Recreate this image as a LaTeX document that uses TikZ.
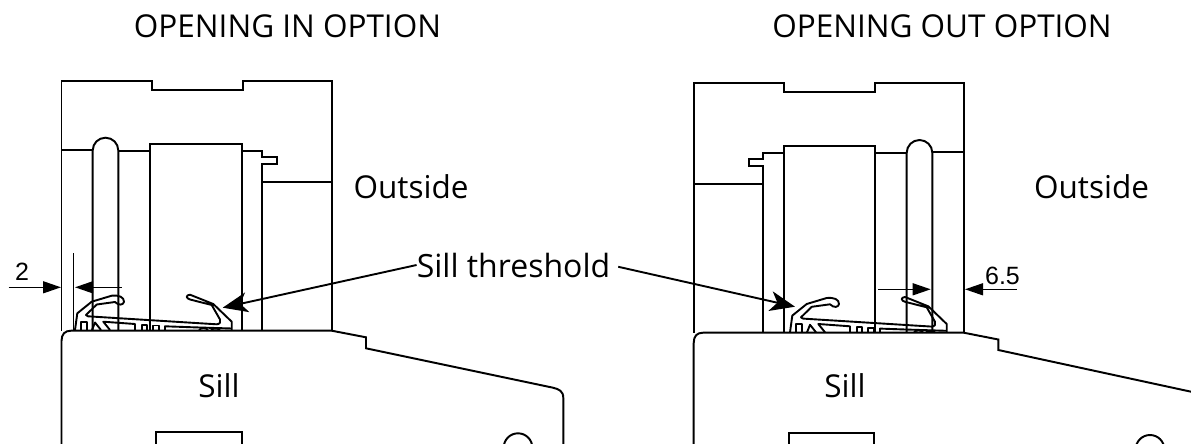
\documentclass[tikz,border=0pt]{standalone}
\usepackage{fontspec}
\setmainfont{Open Sans}
\newfontfamily\dimfont{Liberation Sans}
\usetikzlibrary{arrows.meta}
\tikzset{
  lne/.style={line width=1.95pt,line join=miter},
  thin line/.style={line width=1.5pt},
  lbl/.style={font=\fontsize{31.5}{36}\selectfont,inner sep=0pt},
  dimlbl/.style={font=\dimfont\fontsize{25}{28}\selectfont,inner sep=0pt},
  dimarrow/.style={line width=1.4pt,-{Triangle[length=18pt,width=12pt]},shorten >=0pt},
  leader/.style={line width=1.9pt,-{Stealth[length=25pt,width=20pt,inset=7pt]}},
  sealline/.style={line width=1.9pt,line join=round}
}
\newcommand{\sealshape}{%
  \draw[sealline] (75,330) -- (77.3,313.3) -- (91.7,301.7) -- (111.7,295.7) .. controls (119,295) and (124,297) .. (124,301.7) .. controls (123.5,305) and (119,306) .. (115,302) -- (96.7,304.5) -- (86,315) -- (88,316.3) -- (216.7,324.3) .. controls (220,324) and (221,322) .. (220,319.5) -- (211.7,305) -- (190,299.5) .. controls (186,298.5) and (185.5,295) .. (190,294.7) -- (213.3,304) -- (231.7,321.7) -- (231.7,330);
  \draw[sealline] (80.7,330) -- (80.7,321.7) -- (87.3,321.7) -- (87.3,330);
  \draw[sealline] (92,330) -- (95,322.5) -- (101,330);
  \draw[sealline] (110,330) -- (103.3,321.7) -- (135,324) -- (135,330);
  \draw[sealline] (141.7,330) -- (141.7,325) -- (147.3,325) -- (147.3,330);
  \draw[sealline] (153.3,330) -- (153.3,325.5) -- (159,325.5) -- (159,330);
  \draw[sealline] (165,330) -- (165,326.3) -- (193.3,327.3) -- (231.7,328.5);
  \draw[sealline] (199,330) .. controls (201,327.5) and (206,327.5) .. (208,330);
  \draw[sealline] (211,330) .. controls (213,328) and (218,328) .. (220,330);
}
\begin{document}
\begin{tikzpicture}[x=1pt,y=-1pt]
\useasboundingbox (0,0) rectangle (1191,444);
\fill[white] (0,0) rectangle (1191,444);
% ---- left view
\begin{scope}[lne]
\draw (61.5,330.7) -- (61.5,81) -- (151.7,81) -- (151.7,90) -- (242.7,90) -- (242.7,81) -- (331.7,81) -- (331.7,330.7);
\draw (61.5,150) -- (92.7,150);
\draw (92.7,330.7) -- (92.7,150.5) arc[start angle=180,end angle=360,radius=12.8] -- (118.3,330.7);
\draw (118.3,150.7) -- (150.3,150.7);
\draw (150.3,330.7) -- (150.3,144.3) -- (241.7,144.3) -- (241.7,330.7);
\draw (241.7,151) -- (262,151) -- (262,157.3) -- (276.7,157.3) -- (276.7,164) -- (262,164) -- (262,330.7);
\draw (262,182.3) -- (331.7,182.3);
\draw (61.5,444) -- (61.5,341) .. controls (61.5,334) and (65,330.7) .. (71,330.7) -- (331.7,330.7) -- (366,337.3) -- (366,348.3) -- (553,387.7) .. controls (559,389.2) and (563.3,391) .. (563.3,398) -- (563.3,444);
\draw (156,444) -- (156,432) -- (241.7,432) -- (241.7,444);
\draw (518,447.6) circle[radius=14.3];
\draw[thin line] (73.3,253.3) -- (73.3,330.7);
\end{scope}
\sealshape
% ---- right view
\begin{scope}[lne]
\draw (693.7,332.7) -- (693.7,83.3) -- (784,83.3) -- (784,91.7) -- (875,91.7) -- (875,83.3) -- (963.7,83.3) -- (963.7,332.7);
\draw (693.7,184.3) -- (763,184.3);
\draw (783.7,153) -- (763,153) -- (763,159.3) -- (748.7,159.3) -- (748.7,166) -- (763,166) -- (763,332.7);
\draw (783.7,332.7) -- (783.7,146.3) -- (875,146.3) -- (875,332.7);
\draw (875,152.7) -- (906.7,152.7);
\draw (906.7,332.7) -- (906.7,152.8) arc[start angle=180,end angle=360,radius=12.8] -- (932.3,332.7);
\draw (932.3,151.7) -- (963.7,151.7);
\draw (693.7,444) -- (693.7,343) .. controls (693.7,336) and (697,332.7) .. (703,332.7) -- (963.7,332.7) -- (998.3,339.5) -- (998.3,350) -- (1191,391.7);
\draw (788.7,444) -- (788.7,433.3) -- (873.7,433.3) -- (873.7,444);
\draw (1150,449.3) circle[radius=14.3];
\end{scope}
\begin{scope}[shift={(715,2.3)}]
\sealshape
\end{scope}
% ---- titles and labels
\node[lbl] (titleL) at (287.5,26) {OPENING IN OPTION};
\node[lbl] (titleR) at (942,26) {OPENING OUT OPTION};
\node[lbl] (outL) at (411,187) {Outside};
\node[lbl] (outR) at (1091.5,187) {Outside};
\node[lbl] (sillL) at (219,386) {Sill};
\node[lbl] (sillR) at (845,386) {Sill};
\node[lbl,font=\fontsize{32}{36}\selectfont] (thresh) at (513.5,265) {Sill threshold};
\node[dimlbl] (dimA) at (22,271.7) {2};
\node[dimlbl] (dimB) at (1002.5,276) {6.5};
% ---- leaders
\coordinate (tipL) at (222.7,307.7);
\coordinate (tipR) at (795,306.7);
\draw[leader] (thresh.west) -- (tipL);
\draw[leader,shorten <=8pt] (thresh.east) -- (tipR);
% ---- dimension arrows
\coordinate (a1s) at (8.5,287.3); \coordinate (a1e) at (61,287.3);
\coordinate (a2s) at (121.7,287.3); \coordinate (a2e) at (75,287.3);
\coordinate (b1s) at (878.3,289.3); \coordinate (b1e) at (930.7,289.3);
\coordinate (b2s) at (1016.7,289.3); \coordinate (b2e) at (965,289.3);
\draw[dimarrow] (a1s) -- (a1e);
\draw[dimarrow] (a2s) -- (a2e);
\draw[dimarrow] (b1s) -- (b1e);
\draw[dimarrow] (b2s) -- (b2e);
\end{tikzpicture}
\end{document}
